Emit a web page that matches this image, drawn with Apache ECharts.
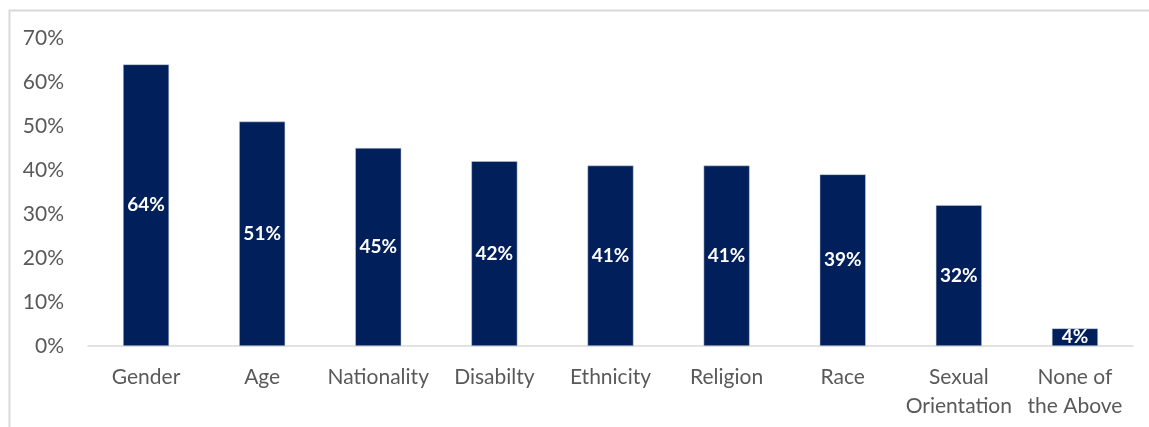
<!DOCTYPE html>
<html>
<head>
<meta charset="utf-8">
<script src="https://cdn.jsdelivr.net/npm/echarts@6/dist/echarts.min.js"></script>
<style>
  html, body { margin: 0; padding: 0; background: #fff; }
  #chart { width: 1149px; height: 427px; }
</style>
</head>
<body>
<div id="chart"></div>
<script>
// categories and shares (in %)
const categories = ['Gender', 'Age', 'Nationality', 'Disabilty', 'Ethnicity', 'Religion', 'Race', 'Sexual\nOrientation', 'None of\nthe Above'];
const shares = [64, 51, 45, 42, 41, 41, 39, 32, 4];
const yTicks = [0, 10, 20, 30, 40, 50, 60, 70];

const fontFamily = 'Lato, "Open Sans", sans-serif';

let chart = echarts.init(document.getElementById('chart'));

let option = {
    animation: false,
    graphic: [{
        // light frame around the chart area
        type: 'rect',
        left: 7,
        top: 8,
        shape: { width: 1200, height: 500 },
        style: { fill: 'none', stroke: '#d9d9d9', lineWidth: 2 },
        silent: true
    }],
    grid: { left: 88, right: 16, top: 38, bottom: 81 },
    xAxis: {
        type: 'category',
        data: categories,
        axisLine: { lineStyle: { color: '#d9d9d9', width: 1.5 } },
        axisTick: { show: false },
        axisLabel: {
            color: '#595959',
            fontFamily: fontFamily,
            fontSize: 21,
            lineHeight: 29,
            margin: 17,
            interval: 0
        }
    },
    yAxis: {
        type: 'value',
        min: yTicks[0],
        max: yTicks[yTicks.length - 1],
        interval: 10,
        splitLine: { show: false },
        axisLine: { show: false },
        axisTick: { show: false },
        axisLabel: {
            color: '#595959',
            fontFamily: fontFamily,
            fontSize: 21,
            margin: 24,
            formatter: '{value}%'
        }
    },
    series: [{
        type: 'bar',
        data: shares,
        barWidth: 46,
        itemStyle: { color: '#001f5b', borderColor: '#c9d0dc', borderWidth: 0.5 },
        label: {
            show: true,
            position: 'inside',
            color: '#ffffff',
            fontFamily: fontFamily,
            fontWeight: 'bold',
            fontSize: 19,
            formatter: '{c}%'
        }
    }]
};

chart.setOption(option);
</script>
</body>
</html>
